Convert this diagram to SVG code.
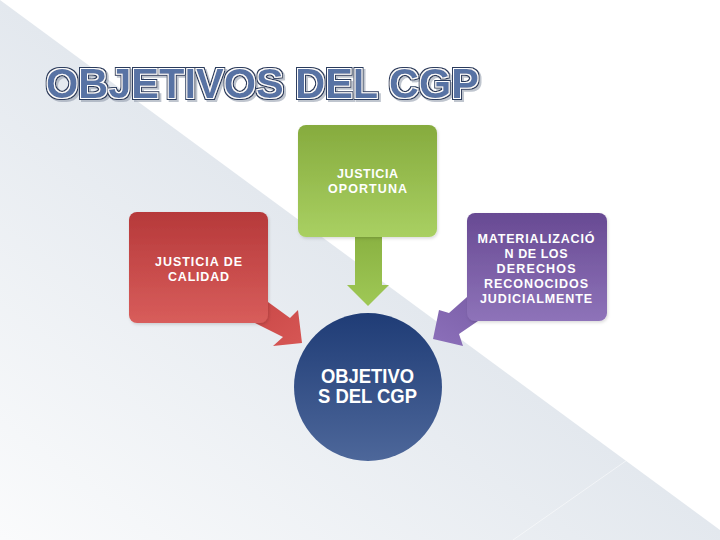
<svg xmlns="http://www.w3.org/2000/svg" width="720" height="540" viewBox="0 0 720 540">
  <defs>
    <linearGradient id="bg" gradientUnits="userSpaceOnUse" x1="360" y1="265" x2="103" y2="614">
      <stop offset="0" stop-color="#e3e8ee"/>
      <stop offset="1" stop-color="#fafbfc"/>
    </linearGradient>
    <linearGradient id="gRed" x1="0" y1="0" x2="0" y2="1">
      <stop offset="0" stop-color="#b6393a"/>
      <stop offset="1" stop-color="#d85d5b"/>
    </linearGradient>
    <linearGradient id="gRedA" gradientUnits="userSpaceOnUse" x1="262" y1="305" x2="292" y2="345">
      <stop offset="0" stop-color="#cb4a49"/>
      <stop offset="1" stop-color="#d55553"/>
    </linearGradient>
    <linearGradient id="gGreen" x1="0" y1="0" x2="0" y2="1">
      <stop offset="0" stop-color="#86ab3e"/>
      <stop offset="1" stop-color="#a9d062"/>
    </linearGradient>
    <linearGradient id="gGreenA" x1="0" y1="0" x2="0" y2="1">
      <stop offset="0" stop-color="#8ab242"/>
      <stop offset="1" stop-color="#9fc856"/>
    </linearGradient>
    <linearGradient id="gPurple" x1="0" y1="0" x2="0" y2="1">
      <stop offset="0" stop-color="#684a93"/>
      <stop offset="1" stop-color="#8e73b9"/>
    </linearGradient>
    <linearGradient id="gPurpleA" gradientUnits="userSpaceOnUse" x1="465" y1="300" x2="440" y2="342">
      <stop offset="0" stop-color="#7e62ab"/>
      <stop offset="1" stop-color="#8a6eb8"/>
    </linearGradient>
    <linearGradient id="gBlue" x1="0" y1="0" x2="0" y2="1">
      <stop offset="0" stop-color="#1f3c76"/>
      <stop offset="1" stop-color="#4d679a"/>
    </linearGradient>
    <filter id="titleFx" x="-5%" y="-30%" width="110%" height="160%">
      <feMorphology in="SourceAlpha" operator="dilate" radius="1.7" result="d2"/>
      <feFlood flood-color="#2a3a5c"/>
      <feComposite in2="d2" operator="in" result="navy"/>
      <feMorphology in="SourceAlpha" operator="dilate" radius="0.8" result="d1"/>
      <feFlood flood-color="#ffffff"/>
      <feComposite in2="d1" operator="in" result="white"/>
      <feOffset in="d2" dx="2" dy="2" result="off"/>
      <feFlood flood-color="#8a94a6" flood-opacity="0.55"/>
      <feComposite in2="off" operator="in" result="shadow"/>
      <feMerge>
        <feMergeNode in="shadow"/>
        <feMergeNode in="navy"/>
        <feMergeNode in="white"/>
        <feMergeNode in="SourceGraphic"/>
      </feMerge>
    </filter>
    <filter id="soft" x="-10%" y="-10%" width="120%" height="120%">
      <feDropShadow dx="1" dy="1.5" stdDeviation="1.5" flood-color="#000" flood-opacity="0.15"/>
    </filter>
  </defs>
  <style>
    .lbl { font-family: "Liberation Sans", Arial, sans-serif; font-weight: bold; fill: #ffffff; font-size: 12.5px; text-anchor: middle; }
    .big { font-size: 19.5px; }
    .title { font-family: "Liberation Sans", Arial, sans-serif; font-weight: bold; font-size: 43px; fill: #5873a4; }
  </style>

  <rect width="720" height="540" fill="#ffffff"/>
  <polygon points="0,0 720,530 720,540 0,540" fill="url(#bg)"/>
  <line x1="513" y1="540" x2="720" y2="395" stroke="#ffffff" stroke-opacity="0.5" stroke-width="1"/>

  <g id="title">
    <text class="title" x="46" y="98" textLength="433" lengthAdjust="spacingAndGlyphs" filter="url(#titleFx)">OBJETIVOS DEL CGP</text>
  </g>

  <g id="connectors">
    <path id="arrow-green" d="M355,237 H382 V285 H389 L368,306 L347,285 H355 Z" fill="url(#gGreenA)"/>
    <path id="arrow-red" d="M262,296 L268,302 L290,318 L298,310 L302,343 L273,346 L283,337 L255,323 L250,318 Z" fill="url(#gRedA)"/>
    <path id="arrow-purple" d="M472,296 L467,297 L449,313 L439,310 L433,339 L463,346 L459,334 L478,321 L484,316 Z" fill="url(#gPurpleA)"/>
  </g>

  <g id="node-oportuna">
    <rect x="298" y="125" width="139" height="112" rx="8" fill="url(#gGreen)" filter="url(#soft)"/>
    <text class="lbl" x="367.5" y="178" textLength="61" lengthAdjust="spacing">JUSTICIA</text>
    <text class="lbl" x="367.5" y="193" textLength="79" lengthAdjust="spacing">OPORTUNA</text>
  </g>

  <g id="node-calidad">
    <rect x="129" y="212" width="139" height="111" rx="8" fill="url(#gRed)" filter="url(#soft)"/>
    <text class="lbl" x="198.5" y="266" textLength="87" lengthAdjust="spacing">JUSTICIA DE</text>
    <text class="lbl" x="198.5" y="281" textLength="61" lengthAdjust="spacing">CALIDAD</text>
  </g>

  <g id="node-materializacion">
    <rect x="467" y="213" width="140" height="108" rx="8" fill="url(#gPurple)" filter="url(#soft)"/>
    <text class="lbl" x="536" y="243" textLength="117" lengthAdjust="spacing">MATERIALIZACIÓ</text>
    <text class="lbl" x="536" y="258" textLength="63" lengthAdjust="spacing">N DE LOS</text>
    <text class="lbl" x="536" y="273" textLength="79" lengthAdjust="spacing">DERECHOS</text>
    <text class="lbl" x="536" y="288" textLength="104" lengthAdjust="spacing">RECONOCIDOS</text>
    <text class="lbl" x="536" y="303" textLength="112" lengthAdjust="spacing">JUDICIALMENTE</text>
  </g>

  <g id="node-objetivos">
    <circle cx="368" cy="387" r="74" fill="url(#gBlue)"/>
    <text class="lbl big" x="367.5" y="383" textLength="93" lengthAdjust="spacingAndGlyphs">OBJETIVO</text>
    <text class="lbl big" x="367.5" y="403" textLength="99" lengthAdjust="spacingAndGlyphs">S DEL CGP</text>
  </g>
</svg>
